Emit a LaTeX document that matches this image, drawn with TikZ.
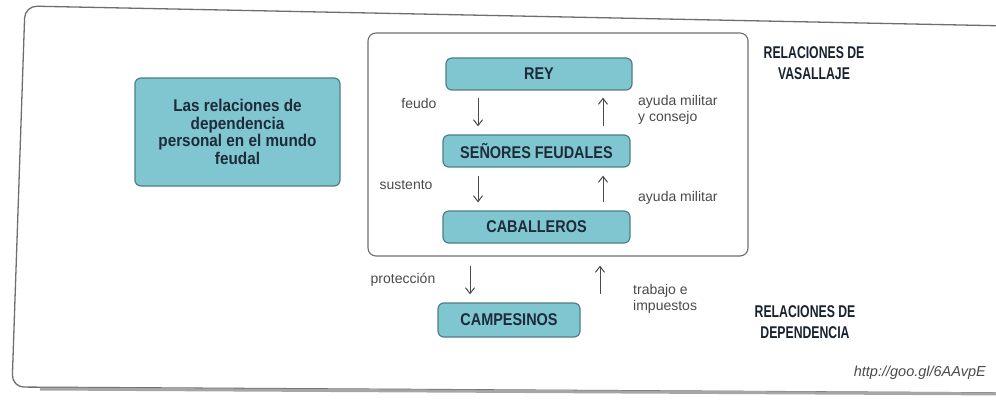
\documentclass[tikz,border=0pt]{standalone}
\usepackage{fontspec}
\setmainfont{Liberation Sans}
\newfontfamily\boxf{Liberation Sans}[FakeStretch=0.85]
\newfontfamily\titf{Liberation Sans}[FakeStretch=0.72]
\newfontfamily\introf{Liberation Sans}[FakeStretch=0.9]
\usetikzlibrary{arrows.meta,calc}
\definecolor{boxfill}{HTML}{80C6D0}
\definecolor{boxdraw}{HTML}{4F7F86}
\definecolor{boxtext}{HTML}{1E2B3A}
\definecolor{labtext}{HTML}{4A4A4A}
\definecolor{framec}{HTML}{6E6E6E}
\tikzset{
  box/.style={draw=boxdraw, line width=1.2pt, fill=boxfill, rounded corners=6pt,
    text=boxtext, font=\boxf\bfseries\fontsize{17}{18}\selectfont, inner sep=0pt},
  lab/.style={text=labtext, font=\fontsize{14}{16.5}\selectfont, inner sep=0pt},
  title/.style={text=boxtext!80!black, font=\titf\bfseries\fontsize{17}{21}\selectfont, inner sep=0pt, align=center},
  arr/.style={draw=labtext, line width=1pt, -{Straight Barb[angle=75:7.5pt]}},
}
\begin{document}
\begin{tikzpicture}[x=1pt,y=-1pt]
\useasboundingbox (0,0) rectangle (996,409);
% outer frame
\draw[framec, line width=1.3pt, rounded corners=12pt] (1010,26) -- (25,6) -- (12,387) -- (1010,393);
\draw[gray!70, line width=3pt] (40,389) -- (1010,394);
% inner frame
\draw[framec, line width=1.1pt, rounded corners=8pt] (368,33) rectangle (748,256);
% boxes
\node[box, minimum width=205pt, minimum height=108pt, align=center,
      font=\introf\bfseries\fontsize{17}{17.5}\selectfont] (intro) at (237.5,132)
  {Las relaciones de\\dependencia\\personal en el mundo\\feudal};
\node[box, minimum width=186pt, minimum height=32pt] (rey) at (539,74) {REY};
\node[box, minimum width=187pt, minimum height=32pt] (sen) at (536.5,151) {SEÑORES FEUDALES};
\node[box, minimum width=187pt, minimum height=32pt] (cab) at (536.5,227) {CABALLEROS};
\node[box, minimum width=142pt, minimum height=34pt] (camp) at (509,320) {CAMPESINOS};
% arrow columns
\coordinate (d1) at (478,0);
\coordinate (u1) at (603,0);
\coordinate (d3) at (470,0);
\coordinate (u3) at (600,0);
\draw[arr, shorten <=7pt, shorten >=8pt] (rey.south -| d1) -- (sen.north -| d1);
\draw[arr, shorten <=8pt, shorten >=7pt] (sen.north -| u1) -- (rey.south -| u1);
\draw[arr, shorten <=8pt, shorten >=8pt] (sen.south -| d1) -- (cab.north -| d1);
\draw[arr, shorten <=8pt, shorten >=8pt] (cab.north -| u1) -- (sen.south -| u1);
\draw[arr, shorten <=22pt, shorten >=8pt] (cab.south -| d3) -- (camp.north -| d3);
\draw[arr, shorten <=8pt, shorten >=22pt] (camp.north -| u3) -- (cab.south -| u3);
% labels
\node[lab] (l1) at (419,103) {feudo};
\node[lab, anchor=west, align=left] (l2) at (638,110) {ayuda militar\\y consejo};
\node[lab] (l3) at (406,185) {sustento};
\node[lab, anchor=west] (l4) at (638,198) {ayuda militar};
\node[lab] (l5) at (403,280) {protección};
\node[lab, anchor=west, align=left] (l6) at (633,299) {trabajo e\\impuestos};
\node[title] (t1) at (814,63) {RELACIONES DE\\VASALLAJE};
\node[title] (t2) at (805,322) {RELACIONES DE\\DEPENDENCIA};
\node[lab, anchor=east, font=\itshape\fontsize{14.5}{16}\selectfont] (url) at (986,373) {http://goo.gl/6AAvpE};
\end{tikzpicture}
\end{document}
